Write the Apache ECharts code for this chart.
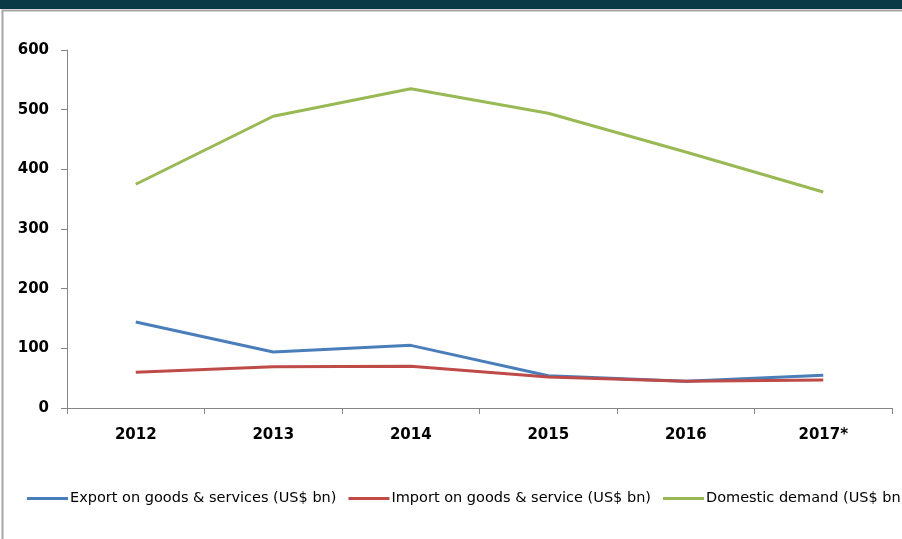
<!DOCTYPE html>
<html><head><meta charset="utf-8">
<script src="https://cdn.jsdelivr.net/npm/echarts@6/dist/echarts.min.js"></script>
<style>html,body{margin:0;padding:0;background:#fff}#c{width:902px;height:539px}</style>
</head><body><div id="c"></div>
<script>
const categories = ['2012','2013','2014','2015','2016','2017*'];
const exportVals = [144, 94, 105, 54, 45, 55];
const importVals = [60, 69, 70, 52, 45, 47];
const domesticVals = [375, 489, 535, 494, 429, 362];
const seriesNames = ['Export on goods & services (US$ bn)','Import on goods & service (US$ bn)','Domestic demand (US$ bn)'];
const yTicks = [0, 100, 200, 300, 400, 500, 600];

const font = "'DejaVu Sans', sans-serif";
const chart = echarts.init(document.getElementById('c'), null, {renderer:'canvas'});
const colors = ['#4a7ebb','#be4b48','#98b954'];
chart.setOption({
  animation:false,
  color: colors,
  graphic:[
    {type:'rect', shape:{x:0,y:0,width:902,height:9}, style:{fill:'#0b3a47'}, silent:true},
    {type:'polyline', shape:{points:[[2.5,539],[2.5,10.5],[902,10.5]]}, style:{stroke:'#a6a6a6', lineWidth:2, fill:null}, silent:true}
  ],
  grid:{left:67, right:10, top:50, bottom:131, containLabel:false},
  legend:{
    left:27, top:491, padding:0, width:2000, itemWidth:41, itemHeight:3, itemGap:12,
    icon:'rect',
    textStyle:{fontFamily:font, fontSize:14.5, color:'#000', padding:[0,0,0,-3]},
    data: seriesNames
  },
  xAxis:{
    type:'category', data:categories, boundaryGap:true,
    axisLine:{lineStyle:{color:'#868686', width:1}},
    axisTick:{show:true, length:6, alignWithLabel:false, lineStyle:{color:'#868686'}},
    axisLabel:{fontFamily:font, fontSize:15, fontWeight:'bold', color:'#000', margin:20}
  },
  yAxis:{
    type:'value', min:0, max:600, interval:100,
    axisLine:{show:true, lineStyle:{color:'#868686', width:1}},
    axisTick:{show:true, length:6, lineStyle:{color:'#868686'}},
    splitLine:{show:false},
    axisLabel:{fontFamily:font, fontSize:15, fontWeight:'bold', color:'#000', margin:18,
      padding:[3,0,0,0],
      formatter: v => yTicks.includes(v) ? String(v) : ''}
  },
  series:[
    {name:seriesNames[0], type:'line', data:exportVals, symbol:'none', lineStyle:{width:3, color:colors[0]}},
    {name:seriesNames[1], type:'line', data:importVals, symbol:'none', lineStyle:{width:3, color:colors[1]}},
    {name:seriesNames[2], type:'line', data:domesticVals, symbol:'none', lineStyle:{width:3, color:colors[2]}}
  ]
});
</script></body></html>
